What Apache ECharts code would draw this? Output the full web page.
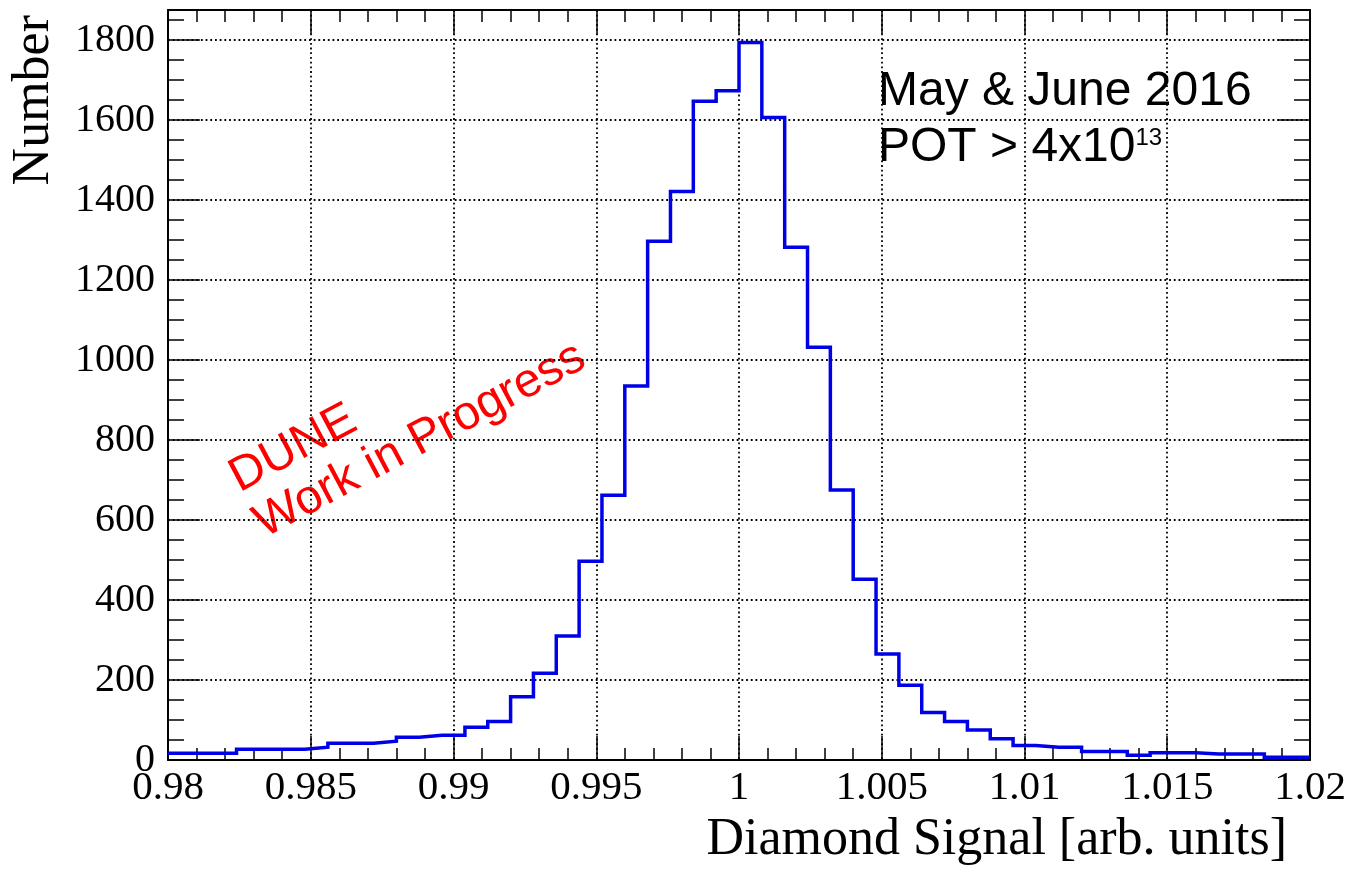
<!DOCTYPE html>
<html>
<head>
<meta charset="utf-8">
<script src="https://cdn.jsdelivr.net/npm/echarts@6/dist/echarts.min.js"></script>
<style>
  html, body { margin: 0; padding: 0; background: #fff; }
  #chart { width: 1349px; height: 875px; }
</style>
</head>
<body>
<div id="chart"></div>
<script>
// histogram binning (50 bins from 0.98 to 1.02)
const xMin = 0.98
const xMax = 1.02
const binWidth = 0.0008
const counts = [17, 17, 17, 27, 27, 27, 32, 42, 42, 47, 57, 62, 62, 82, 96, 158, 217, 310, 497, 662,
  935, 1297, 1421, 1647, 1673, 1794, 1606, 1282, 1032, 675, 452, 265, 187, 119, 96, 75, 53, 36, 32, 32,
  21, 21, 12, 18, 18, 15, 15, 15, 7, 7]
const yMin = 0
const yMax = 1875
const xInterval = 0.005
const yInterval = 200

const serif = 'Liberation Serif'

// left edges of every bin plus the closing edge
const points = counts.map(function (c, i) {
  return [+(xMin + i * binWidth).toFixed(4), c]
})
points.push([xMax, counts[counts.length - 1]])

var myChart = echarts.init(document.getElementById('chart'))

const frameLine = { show: true, onZero: false, lineStyle: { color: '#000', width: 2 } }
const dotted = { show: true, lineStyle: { color: '#000', width: 1.8, type: [1.8, 2.9] } }

function xAxisDef(pos, main) {
  return {
    type: 'value',
    position: pos,
    min: xMin,
    max: xMax,
    interval: xInterval,
    axisLine: frameLine,
    axisTick: { show: true, inside: true, length: 24, lineStyle: { color: '#000', width: 1.5 } },
    minorTick: { show: true, splitNumber: 5, length: 12, lineStyle: { color: '#000', width: 1.5 } },
    axisLabel: {
      show: main,
      margin: 8,
      fontFamily: serif,
      fontSize: 41,
      color: '#000',
      formatter: function (v) { return String(+v.toFixed(3)) },
    },
    splitLine: main ? dotted : { show: false },
  }
}

function yAxisDef(pos, main) {
  return {
    type: 'value',
    position: pos,
    min: yMin,
    max: yMax,
    interval: yInterval,
    axisLine: frameLine,
    axisTick: { show: true, inside: true, length: 32, lineStyle: { color: '#000', width: 1.5 } },
    minorTick: { show: true, splitNumber: 4, length: 16, lineStyle: { color: '#000', width: 1.5 } },
    axisLabel: {
      show: main,
      margin: 13,
      showMaxLabel: false,
      fontFamily: serif,
      fontSize: 40,
      color: '#000',
      formatter: function (v) { return String(v) },
    },
    splitLine: main ? dotted : { show: false },
  }
}

function label(text, x, y, font, fill, align, rotation) {
  return {
    type: 'text', x: x, y: y, rotation: rotation || 0,
    style: { text: text, font: font, fill: fill,
      align: align, textAlign: align, verticalAlign: 'middle', textVerticalAlign: 'middle' },
  }
}

const tilt = 28 * Math.PI / 180

var option = {
  animation: false,
  backgroundColor: '#fff',
  grid: { left: 168, right: 39, top: 10, bottom: 115 },
  xAxis: [xAxisDef('bottom', true), xAxisDef('top', false)],
  yAxis: [yAxisDef('left', true), yAxisDef('right', false)],
  series: [
    {
      type: 'line',
      step: 'end',
      data: points,
      showSymbol: false,
      xAxisIndex: 0,
      yAxisIndex: 0,
      lineStyle: { color: '#0000e6', width: 3.5, join: 'miter', cap: 'butt' },
    },
  ],
  graphic: {
    elements: [
      label('Number', 34.5, 15, '52px "Liberation Serif"', '#000', 'right', Math.PI / 2),
      label('Diamond Signal [arb. units]', 1287, 840.5, '52px "Liberation Serif"', '#000', 'right'),
      label('May & June 2016', 878, 91.4, '48px "Liberation Sans"', '#000', 'left'),
      label('POT > 4x10', 878, 147.4, '48px "Liberation Sans"', '#000', 'left'),
      label('13', 1135.5, 138.7, '24px "Liberation Sans"', '#000', 'left'),
      label('DUNE', 233.3, 480.7, '48px "Liberation Sans"', '#ff0000', 'left', tilt),
      label('Work in Progress', 257.7, 526.6, '48px "Liberation Sans"', '#ff0000', 'left', tilt),
    ],
  },
}
myChart.setOption(option)
</script>
</body>
</html>
